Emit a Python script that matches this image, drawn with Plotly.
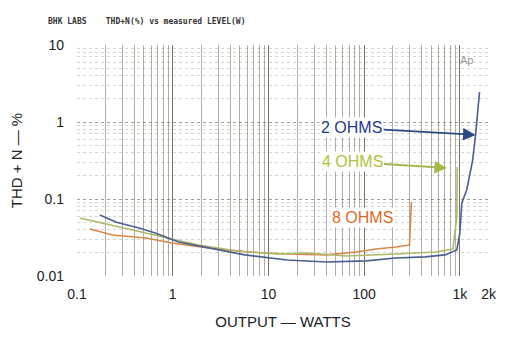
import math
import plotly.graph_objects as go

# --- data (watts, THD+N %) ---
ohm2_watts = [0.173, 0.258, 0.446, 0.668, 1.15, 2.52, 5.66, 15.7, 40.6, 105, 214, 436, 700, 931, 1000, 1049, 1181, 1362, 1462, 1607]
ohm2_thd = [0.062, 0.050, 0.042, 0.036, 0.0277, 0.0231, 0.0188, 0.0161, 0.0152, 0.0157, 0.0171, 0.0177, 0.0188, 0.0218, 0.036, 0.089, 0.131, 0.32, 0.68, 2.45]

ohm4_watts = [0.107, 0.277, 0.718, 1.85, 4.79, 12.4, 25.2, 65.2, 214, 552, 847, 931, 940]
ohm4_thd = [0.0567, 0.0433, 0.033, 0.0253, 0.0211, 0.0193, 0.0199, 0.0182, 0.0193, 0.0205, 0.0224, 0.06, 0.26]

ohm8_watts = [0.136, 0.235, 0.527, 0.977, 2.35, 6.08, 15.7, 40.6, 82.7, 133, 214, 298, 312]
ohm8_thd = [0.0407, 0.034, 0.0312, 0.0268, 0.0231, 0.0205, 0.0193, 0.0188, 0.0205, 0.0224, 0.0238, 0.0253, 0.0915]

x_tickvals = [0.1, 1, 10, 100, 1000, 2000]
x_ticktext = ["0.1", "1", "10", "100", "1k", "2k"]
y_tickvals = [0.01, 0.1, 1, 10]
y_ticktext = ["0.01", "0.1", "1", "10"]

fig = go.Figure()

fig.add_trace(go.Scatter(x=ohm8_watts, y=ohm8_thd, mode="lines",
                         line=dict(color="#d9874a", width=1.6), name="8 ohms"))
fig.add_trace(go.Scatter(x=ohm4_watts, y=ohm4_thd, mode="lines",
                         line=dict(color="#adb86a", width=1.6), name="4 ohms"))
fig.add_trace(go.Scatter(x=ohm2_watts, y=ohm2_thd, mode="lines",
                         line=dict(color="#4a5f8e", width=1.6), name="2 ohms"))

label_font = "Liberation Sans, Arial, sans-serif"

# curve labels (annotations on log axes take log10 positions)
fig.add_annotation(x=math.log10(1462), y=math.log10(0.68), ax=-124, ay=-7,
                   text="2 OHMS", showarrow=True, arrowhead=2, arrowsize=1.4, arrowwidth=1.8,
                   arrowcolor="#2a4a80", font=dict(family=label_font, size=16, color="#1f3a88"),
                   bgcolor="white")
fig.add_annotation(x=math.log10(735), y=math.log10(0.253), ax=-95, ay=-6,
                   text="4 OHMS", showarrow=True, arrowhead=2, arrowsize=1.4, arrowwidth=1.8,
                   arrowcolor="#a8b848", font=dict(family=label_font, size=16, color="#b0c23a"),
                   bgcolor="white")
fig.add_annotation(x=math.log10(97), y=math.log10(0.058), showarrow=False,
                   text="8 OHMS", font=dict(family=label_font, size=16, color="#e0691e"),
                   bgcolor="white")

# header and logo
fig.add_annotation(xref="paper", yref="paper", x=-0.075, y=1.13, xanchor="left",
                   text="<b>BHK LABS    THD+N(%) vs measured LEVEL(W)</b>", showarrow=False,
                   font=dict(family="DejaVu Sans Mono", size=8, color="#333333"))
fig.add_annotation(xref="paper", yref="paper", x=0.965, y=0.97,
                   text="Ap", showarrow=False,
                   font=dict(family=label_font, size=11, color="#999999"))

fig.update_xaxes(type="log", range=[-1, 3.305], automargin=False,
                 tickvals=x_tickvals, ticktext=x_ticktext, ticklabeloverflow="allow",
                 showgrid=True, gridcolor="rgba(100,100,80,0.75)", gridwidth=1,
                 minor=dict(dtick="D1", showgrid=True, gridcolor="rgba(110,110,90,0.55)", gridwidth=1),
                 zeroline=False, showline=False, ticks="",
                 ticklabelstandoff=8,
                 tickfont=dict(family=label_font, size=14, color="#222222"),
                 title=dict(text="OUTPUT — WATTS", standoff=15,
                            font=dict(family=label_font, size=15, color="#222222")))
fig.update_yaxes(type="log", range=[-2, 1], automargin=False,
                 tickvals=y_tickvals, ticktext=y_ticktext,
                 showgrid=True, gridcolor="rgba(90,90,80,0.45)", griddash="dot", gridwidth=1,
                 minor=dict(dtick="D1", showgrid=True, gridcolor="rgba(120,120,110,0.3)", griddash="dot"),
                 zeroline=False, showline=False, ticks="",
                 ticklabelstandoff=12,
                 tickfont=dict(family=label_font, size=14, color="#222222"),
                 title=dict(text="THD + N — %", standoff=16,
                            font=dict(family=label_font, size=15, color="#222222")))

# the page body keeps an 8px margin on every side, so the figure is 16px smaller
fig.update_layout(width=489, height=322,
                  margin=dict(l=69, r=8, t=37, b=54),
                  plot_bgcolor="white", paper_bgcolor="white",
                  showlegend=False)

fig.write_html("out.html")
